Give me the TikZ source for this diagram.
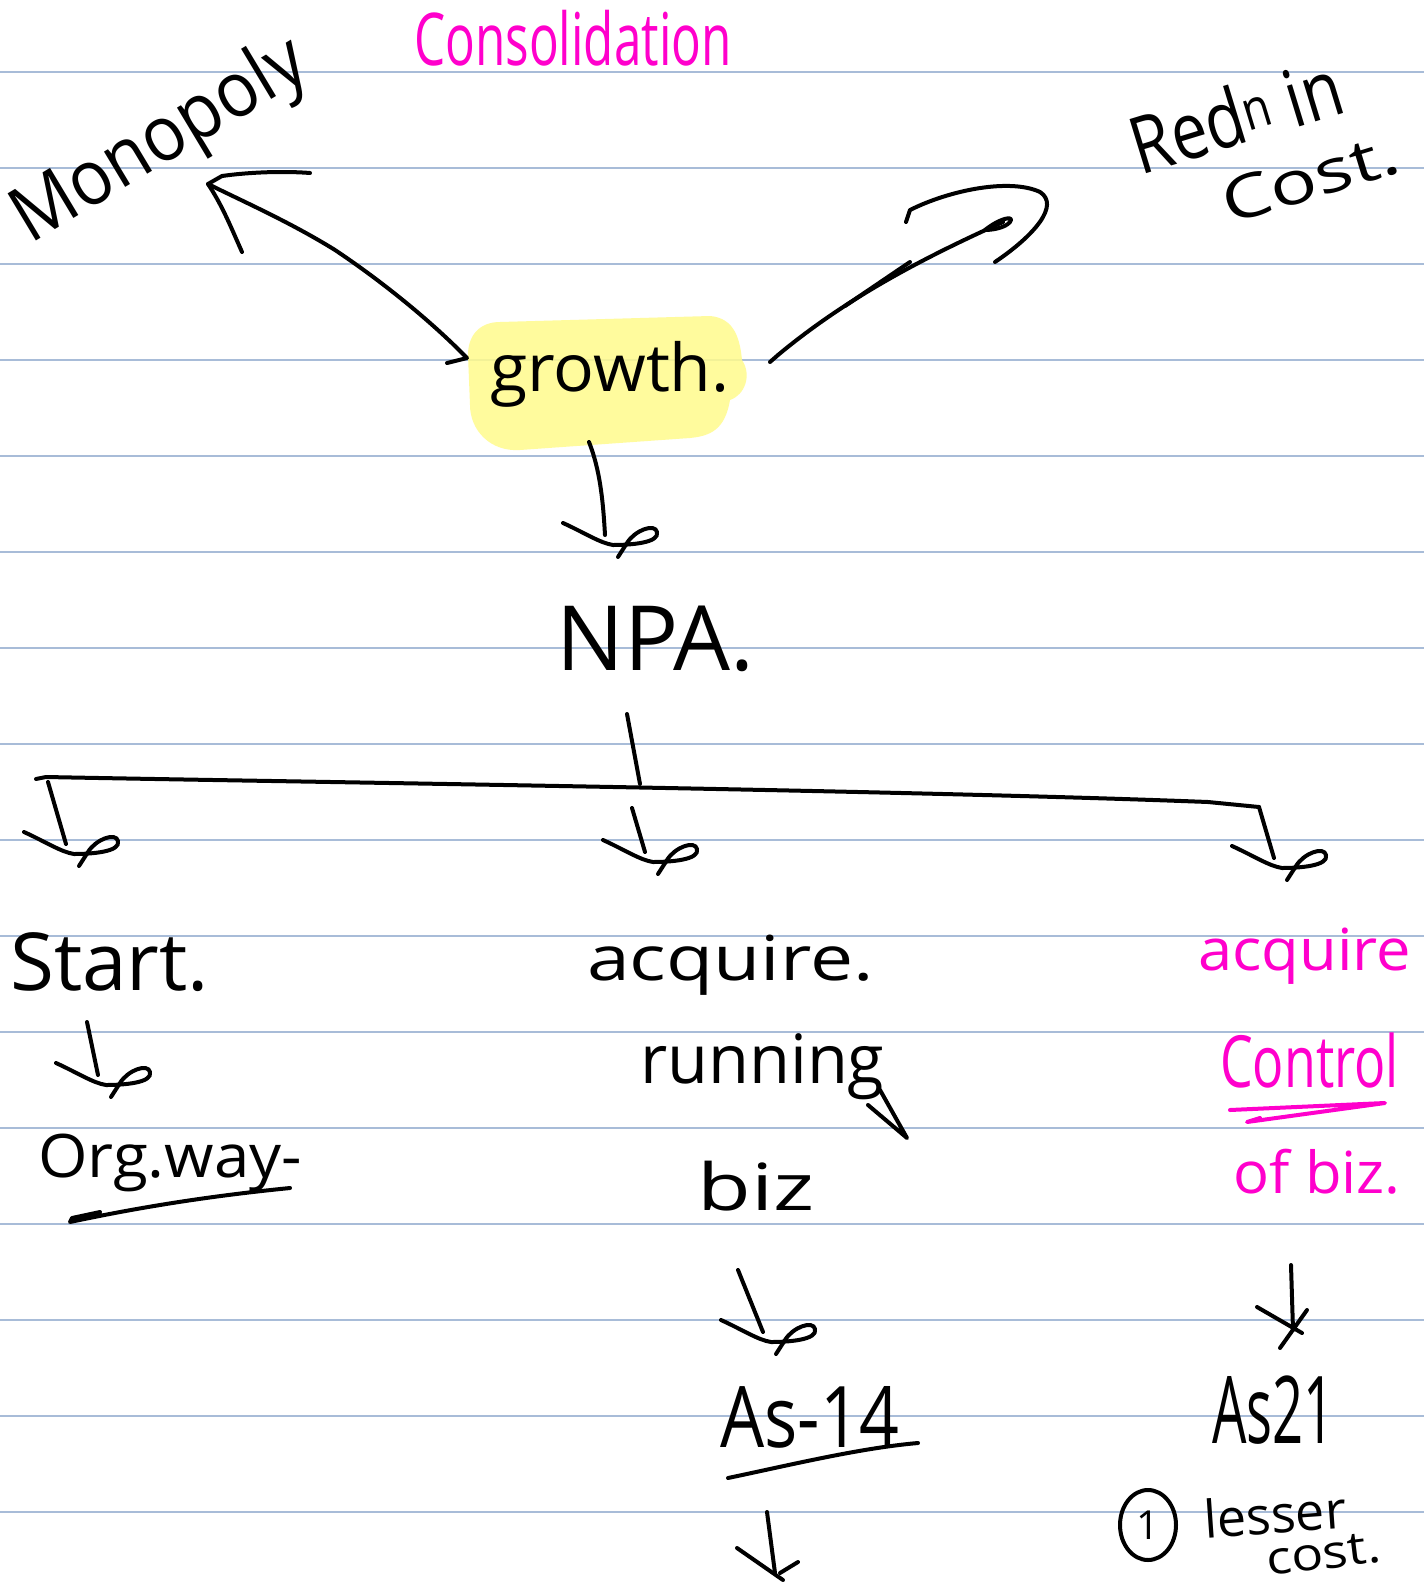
\documentclass[tikz,border=0pt]{standalone}
\usepackage{fontspec}
\setmainfont{Open Sans}
\usetikzlibrary{shapes.geometric}
\definecolor{rulecol}{RGB}{168,188,216}
\definecolor{pinkink}{RGB}{255,0,204}
\definecolor{marker}{RGB}{255,251,140}
% handwriting-sized text: size (pt), x-stretch, y-stretch, text
\newcommand\hw[4]{\scalebox{#2}[#3]{\fontsize{#1pt}{#1pt}\selectfont #4}}
\tikzset{
  pen/.style={draw=black, line width=4pt, line cap=round, line join=round},
  pinkpen/.style={draw=pinkink, line width=4pt, line cap=round, line join=round},
  word/.style={inner sep=0pt, text=black},
  pinkword/.style={inner sep=0pt, text=pinkink},
  ruling/.style={draw=rulecol, line width=2pt},
  curl/.pic={\draw[pen] (-42,-12) .. controls (-20,-2) and (-5,8) .. (8,10)
      .. controls (25,10) and (55,8) .. (52,-3)
      .. controls (50,-12) and (30,-5) .. (22,8) -- (13,22);}
}
\begin{document}
\begin{tikzpicture}[x=1pt,y=-1pt]
\useasboundingbox (0,0) rectangle (1424,1592);
\fill[white] (0,0) rectangle (1424,1592);

% ruled paper
\foreach \k in {0,...,15}
  \draw[ruling] (0,72+96*\k) -- (1424,72+96*\k);

% highlighter stroke behind "growth."
\fill[marker, fill opacity=0.85] (500,322) -- (710,316)
  .. controls (735,318) and (740,340) .. (742,360)
  .. controls (752,375) and (745,395) .. (730,400)
  .. controls (725,430) and (710,436) .. (690,438)
  -- (520,450) .. controls (490,452) and (470,430) .. (470,405)
  -- (468,355) .. controls (468,335) and (480,322) .. (500,322) -- cycle;

% words
\node[pinkword, anchor=base west] (consol) at (414,66) {\hw{52}{0.95}{1.4}{Consolidation}};
\node[word, rotate=31] (mono) at (161,143) {\hw{70}{1}{1.1}{Monopoly}};
\node[word, rotate=17] (redn) at (1236,115) {\hw{72}{0.9}{1.1}{Red\textsuperscript{n} in}};
\node[word, rotate=17] (costA) at (1310,178) {\hw{60}{1.3}{1}{Cost.}};
\node[word, anchor=base west] (growth) at (490,391) {\hw{60}{1.13}{1.1}{growth.}};
\node[word, anchor=base west] (npa) at (556,670) {\hw{90}{1}{1}{NPA.}};
\node[word, anchor=base west] (start) at (10,990) {\hw{80}{1}{1}{Start.}};
\node[word, anchor=base west] (orgway) at (38,1177) {\hw{60}{1.06}{1}{Org.way-}};
\node[word, anchor=base west] (acq) at (587,980) {\hw{62}{1.24}{1}{acquire.}};
\node[word, anchor=base west] (running) at (640,1083) {\hw{68}{0.98}{1}{running}};
\node[word, anchor=base west] (biz) at (697,1210) {\hw{65}{1.35}{1}{biz}};
\node[word, anchor=base west] (as14) at (720,1447) {\hw{85}{0.82}{1}{As-14}};
\node[pinkword, anchor=base west] (acqB) at (1198,970) {\hw{58}{1.06}{1}{acquire}};
\node[pinkword, anchor=base west] (control) at (1220,1087) {\hw{72}{0.72}{1}{Control}};
\node[pinkword, anchor=base west] (ofbiz) at (1233,1193) {\hw{58}{1.03}{1}{of biz.}};
\node[word, anchor=base west] (as21) at (1212,1443) {\hw{85}{0.64}{1.1}{As21}};
\node[word, ellipse, draw, line width=4pt, minimum width=56pt, minimum height=70pt] (one) at (1148,1525) {\hw{40}{1}{1}{1}};
\node[word, anchor=base west, rotate=4] (lesser) at (1205,1538) {\hw{52}{1}{1}{lesser}};
\node[word, anchor=base west, rotate=7] (costB) at (1268,1576) {\hw{46}{1.15}{1}{cost.}};

% growth -> Monopoly
\coordinate (ltip) at (208,184);
\draw[pen] (447,363) -- (467,358) .. controls (430,320) and (380,280) .. (335,250)
  .. controls (290,222) and (240,200) .. (ltip);
\draw[pen] (242,252) .. controls (230,225) and (222,205) .. (ltip)
  -- (222,176) .. controls (250,172) and (285,171) .. (310,173);

% growth -> Red^n in cost
\coordinate (rtip) at (1003,222);
\draw[pen] (770,362) -- (778,355) .. controls (850,295) and (930,255) .. (rtip);
\draw[pen] (845,306) -- (910,262);
\draw[pen] (906,222) -- (910,210) .. controls (950,190) and (1010,178) .. (1040,192)
  .. controls (1060,205) and (1035,235) .. (995,262);
\draw[pen] (985,230) .. controls (1000,218) and (1015,215) .. (1010,222)
  .. controls (1005,228) and (992,230) .. (985,230);

% growth -> NPA
\coordinate (gtip) at (605,535);
\draw[pen] (589,442) .. controls (600,470) and (603,500) .. (gtip);
\pic at (gtip) {curl};

% NPA -> three branches
\coordinate (bl) at (48,782);
\coordinate (bm) at (632,808);
\coordinate (br) at (1259,807);
\draw[pen] (627,714) -- (640,784);
\draw[pen] (36,779) -- (46,777) .. controls (300,782) and (900,790) .. (1208,802) -- (br);
\draw[pen] (bl) -- (66,844);
\pic at (66,844) {curl};
\draw[pen] (bm) -- (645,852);
\pic at (645,852) {curl};
\draw[pen] (br) -- (1274,858);
\pic at (1274,858) {curl};

% Start -> Org.way
\draw[pen] (87,1022) -- (98,1075);
\pic at (98,1075) {curl};
\draw[pen] (100,1212) -- (72,1218) -- (70,1222) .. controls (150,1205) and (220,1195) .. (290,1188);

% running biz -> As-14
\draw[pen] (880,1090) -- (907,1138) -- (868,1105);
\draw[pen] (738,1270) -- (763,1332);
\pic at (763,1332) {curl};
\draw[pen] (728,1478) .. controls (790,1465) and (860,1448) .. (918,1443);
\draw[pen] (767,1512) -- (775,1573);
\draw[pen] (737,1548) -- (783,1580);
\draw[pen] (780,1573) -- (798,1562);

% control of biz -> As21
\draw[pinkpen] (1230,1110) -- (1385,1103) -- (1247,1122) -- (1260,1118);
\draw[pen] (1291,1265) -- (1293,1330);
\draw[pen] (1257,1307) -- (1302,1333);
\draw[pen] (1280,1348) -- (1307,1310);
\end{tikzpicture}
\end{document}
